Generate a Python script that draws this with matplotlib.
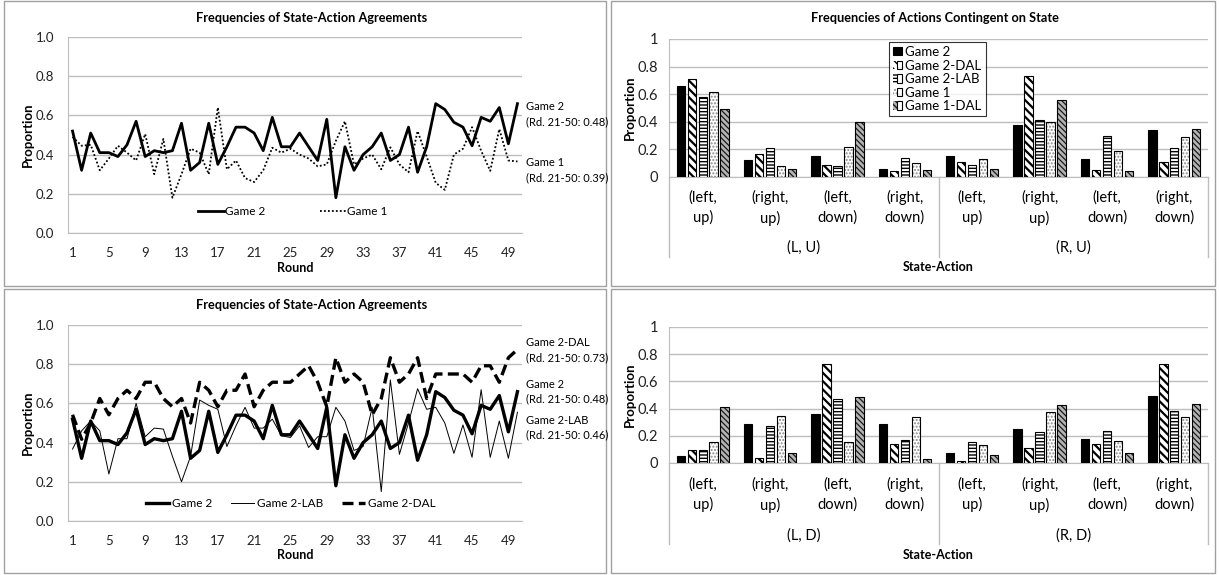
import matplotlib
matplotlib.use("Agg")
import matplotlib.pyplot as plt
from matplotlib.patches import Rectangle, Patch
from matplotlib.lines import Line2D
from matplotlib.legend_handler import HandlerTuple
import numpy as np

plt.rcParams['font.family'] = ['Lato', 'DejaVu Sans']
plt.rcParams['hatch.linewidth'] = 1.0

W, H = 1219, 575

# ---------------- data: agreement frequencies per round ----------------
rounds = list(range(1, 51))
game2 = [0.52, 0.32, 0.51, 0.41, 0.41, 0.39, 0.45, 0.57, 0.39, 0.42,
         0.41, 0.42, 0.56, 0.32, 0.36, 0.56, 0.35, 0.44, 0.54, 0.54,
         0.51, 0.42, 0.59, 0.44, 0.44, 0.51, 0.44, 0.37, 0.58, 0.18,
         0.44, 0.32, 0.40, 0.44, 0.51, 0.37, 0.40, 0.54, 0.31, 0.44,
         0.66, 0.63, 0.565, 0.54, 0.445, 0.59, 0.57, 0.64, 0.455, 0.66]
game1 = [0.49, 0.445, 0.45, 0.32, 0.38, 0.445, 0.41, 0.37, 0.505, 0.30,
         0.48, 0.18, 0.30, 0.43, 0.41, 0.30, 0.64, 0.325, 0.37, 0.28,
         0.26, 0.32, 0.435, 0.41, 0.43, 0.40, 0.38, 0.34, 0.35, 0.47,
         0.57, 0.35, 0.38, 0.40, 0.325, 0.437, 0.35, 0.31, 0.52, 0.39,
         0.256, 0.22, 0.40, 0.43, 0.54, 0.42, 0.317, 0.53, 0.37, 0.365]
game2_lab = [0.367, 0.46, 0.51, 0.46, 0.24, 0.42, 0.42, 0.60, 0.43, 0.474,
             0.469, 0.33, 0.20, 0.33, 0.617, 0.59, 0.57, 0.38, 0.486, 0.58,
             0.474, 0.474, 0.52, 0.435, 0.426, 0.486, 0.375, 0.43, 0.43, 0.58,
             0.51, 0.36, 0.38, 0.58, 0.15, 0.72, 0.34, 0.50, 0.675, 0.57,
             0.58, 0.50, 0.345, 0.49, 0.325, 0.67, 0.325, 0.51, 0.32, 0.555]
game2_dal = [0.542, 0.417, 0.50, 0.625, 0.542, 0.625, 0.667, 0.625, 0.708, 0.708,
             0.625, 0.583, 0.625, 0.50, 0.708, 0.667, 0.583, 0.667, 0.667, 0.75,
             0.583, 0.667, 0.708, 0.708, 0.708, 0.75, 0.792, 0.708, 0.583, 0.833,
             0.708, 0.75, 0.708, 0.542, 0.625, 0.833, 0.708, 0.75, 0.833, 0.625,
             0.75, 0.75, 0.75, 0.75, 0.708, 0.792, 0.792, 0.708, 0.833, 0.875]
round_ticks = list(range(1, 50, 4))

# ---------------- data: actions contingent on state ----------------
action_labels = ["(left,\nup)", "(right,\nup)", "(left,\ndown)", "(right,\ndown)"] * 2
top_states = ["(L, U)", "(R, U)"]
bottom_states = ["(L, D)", "(R, D)"]
series_names = ["Game 2", "Game 2-DAL", "Game 2-LAB", "Game 1", "Game 1-DAL"]

top_game2 = [0.66, 0.12, 0.15, 0.06, 0.15, 0.38, 0.13, 0.34]
top_game2_dal = [0.71, 0.165, 0.09, 0.04, 0.11, 0.73, 0.05, 0.11]
top_game2_lab = [0.58, 0.21, 0.08, 0.135, 0.09, 0.41, 0.295, 0.21]
top_game1 = [0.615, 0.08, 0.215, 0.10, 0.13, 0.40, 0.19, 0.29]
top_game1_dal = [0.49, 0.055, 0.40, 0.05, 0.055, 0.56, 0.04, 0.35]

bot_game2 = [0.055, 0.285, 0.36, 0.29, 0.075, 0.25, 0.175, 0.49]
bot_game2_dal = [0.095, 0.035, 0.73, 0.14, 0.015, 0.11, 0.14, 0.73]
bot_game2_lab = [0.095, 0.27, 0.47, 0.17, 0.155, 0.225, 0.235, 0.385]
bot_game1 = [0.155, 0.345, 0.155, 0.34, 0.13, 0.375, 0.16, 0.335]
bot_game1_dal = [0.415, 0.07, 0.485, 0.03, 0.06, 0.43, 0.075, 0.435]

GRID = '#bdbdbd'
BORDER = '#a0a0a0'

fig = plt.figure(figsize=(W / 100, H / 100), dpi=100)


def fx(x):
    return x / W


def fy(y):
    return 1 - y / H


def add_axes_px(left, top, right, bottom):
    return fig.add_axes([fx(left), fy(bottom), (right - left) / W, (bottom - top) / H])


# panel frames
for (l, t, r, b) in [(4, 1, 606, 286), (611, 1, 1215, 286),
                     (4, 289, 606, 573), (611, 289, 1215, 573)]:
    fig.patches.append(Rectangle((fx(l), fy(b)), (r - l) / W, (b - t) / H,
                                 transform=fig.transFigure, fill=False,
                                 edgecolor=BORDER, linewidth=1.0))


def style_line_axes(ax):
    ax.set_xlim(0.5, 50.5)
    ax.set_ylim(0, 1)
    ax.set_yticks(np.arange(0, 1.01, 0.2))
    ax.set_yticklabels([f"{v:.1f}" for v in np.arange(0, 1.01, 0.2)])
    ax.set_xticks(round_ticks)
    ax.set_xticklabels([str(t) for t in round_ticks])
    ax.yaxis.grid(True, color=GRID, linewidth=1.0)
    ax.set_axisbelow(True)
    for s in ['top', 'right']:
        ax.spines[s].set_visible(False)
    ax.spines['left'].set_color(GRID)
    ax.spines['bottom'].set_color(GRID)
    ax.tick_params(axis='both', length=0, labelsize=9.5, colors='#222222')
    ax.tick_params(axis='y', pad=10)
    ax.tick_params(axis='x', pad=10)


TITLE_FS = 9.2
LABEL_FS = 9.5
NOTE_FS = 8.0

# ---------------- top-left: Game 2 vs Game 1 ----------------
ax1 = add_axes_px(68, 37, 522, 233)
style_line_axes(ax1)
ax1.plot(rounds, game2, color='black', linewidth=2.0, label='Game 2', zorder=3)
ax1.plot(rounds, game1, color='black', linewidth=1.3, linestyle=(0, (1, 1.2)),
         label='Game 1', zorder=2)
ax1.legend(loc='center', bbox_to_anchor=(0.495, 0.11), ncol=2, frameon=False,
           fontsize=8.5, handlelength=2.2, handletextpad=0.1, columnspacing=4.6)
fig.text(fx(312), fy(18), "Frequencies of State-Action Agreements", ha='center',
         va='center', fontsize=TITLE_FS, fontweight='bold')
fig.text(fx(28), fy(135), "Proportion", rotation=90, ha='center', va='center',
         fontsize=LABEL_FS, fontweight='bold')
fig.text(fx(295), fy(268), "Round", ha='center', va='center', fontsize=9,
         fontweight='bold')
for txt, y in [("Game 2", 106), ("(Rd. 21-50: 0.48)", 122),
               ("Game 1", 163), ("(Rd. 21-50: 0.39)", 178)]:
    fig.text(fx(526), fy(y), txt, ha='left', va='center', fontsize=NOTE_FS)

# ---------------- bottom-left: Game 2 variants ----------------
ax2 = add_axes_px(68, 325, 522, 521)
style_line_axes(ax2)
ax2.plot(rounds, game2, color='black', linewidth=2.4, label='Game 2', zorder=3)
ax2.plot(rounds, game2_lab, color='black', linewidth=0.7, label='Game 2-LAB', zorder=2)
ax2.plot(rounds, game2_dal, color='black', linewidth=2.4, linestyle=(0, (3.3, 1.6)),
         label='Game 2-DAL', zorder=3)
ax2.legend(loc='center', bbox_to_anchor=(0.49, 0.09), ncol=3, frameon=False,
           fontsize=8.5, handlelength=2.0, handletextpad=0.2, columnspacing=1.6)
fig.text(fx(312), fy(305), "Frequencies of State-Action Agreements", ha='center',
         va='center', fontsize=TITLE_FS, fontweight='bold')
fig.text(fx(28), fy(423), "Proportion", rotation=90, ha='center', va='center',
         fontsize=LABEL_FS, fontweight='bold')
fig.text(fx(295), fy(555), "Round", ha='center', va='center', fontsize=9,
         fontweight='bold')
for txt, y in [("Game 2-DAL", 342), ("(Rd. 21-50: 0.73)", 358),
               ("Game 2", 384), ("(Rd. 21-50: 0.48)", 399),
               ("Game 2-LAB", 420), ("(Rd. 21-50: 0.46)", 435)]:
    fig.text(fx(526), fy(y), txt, ha='left', va='center', fontsize=NOTE_FS)

# ---------------- bar charts ----------------
styles = [
    dict(face='black', hatch=None, hcolor='black', hlw=1.0),
    dict(face='white', hatch='\\\\\\\\', hcolor='black', hlw=1.6),
    dict(face='white', hatch='-----', hcolor='black', hlw=1.0),
    dict(face='white', hatch='.....', hcolor='#8a8a8a', hlw=1.0),
    dict(face='#b4b4b4', hatch='\\\\\\\\\\\\', hcolor='#1a1a1a', hlw=0.9),
]

PITCH = 0.163
BAR_W = 0.124


def draw_bars(ax, values_list):
    x = np.arange(len(action_labels))
    for j, (vals, st) in enumerate(zip(values_list, styles)):
        pos = x + (j - 2) * PITCH
        if st['hatch'] is None:
            ax.bar(pos, vals, BAR_W, color=st['face'], edgecolor='black',
                   linewidth=0.8, zorder=3)
            continue
        bars = ax.bar(pos, vals, BAR_W, color=st['face'], edgecolor=st['hcolor'],
                      linewidth=0, hatch=st['hatch'], zorder=3)
        for b in bars:
            if hasattr(b, 'set_hatch_linewidth'):
                b.set_hatch_linewidth(st['hlw'])
        ax.bar(pos, vals, BAR_W, fill=False, edgecolor='black', linewidth=0.8, zorder=4)


def style_bar_axes(ax, states, label_y1, state_y, sep_bottom, axis_y):
    ax.set_xlim(-0.5, 7.5)
    ax.set_ylim(0, 1)
    ax.set_yticks(np.arange(0, 1.01, 0.2))
    ax.set_yticklabels(["0", "0.2", "0.4", "0.6", "0.8", "1"])
    ax.set_xticks([])
    ax.yaxis.grid(True, color=GRID, linewidth=1.0)
    ax.set_axisbelow(True)
    for s in ['top', 'right']:
        ax.spines[s].set_visible(False)
    ax.spines['left'].set_color(GRID)
    ax.spines['bottom'].set_color(GRID)
    ax.tick_params(axis='y', length=0, labelsize=10.5, pad=8, colors='#222222')
    for i, lab in enumerate(action_labels):
        x_px = 669 + (i + 0.5) * (1208 - 669) / 8
        fig.text(fx(x_px), fy(label_y1), lab, ha='center', va='top',
                 fontsize=10.5, linespacing=1.5)
    for k, st in enumerate(states):
        x_px = 669 + (k * 4 + 2) * (1208 - 669) / 8
        fig.text(fx(x_px), fy(state_y), st, ha='center', va='center', fontsize=10.5)
    for xp in [669, 938.5, 1208]:
        fig.add_artist(Line2D([fx(xp), fx(xp)], [fy(axis_y), fy(sep_bottom)],
                              transform=fig.transFigure, color=GRID, linewidth=1.0))


ax3 = add_axes_px(669, 39, 1208, 177)
draw_bars(ax3, [top_game2, top_game2_dal, top_game2_lab, top_game1, top_game1_dal])
style_bar_axes(ax3, top_states, 190, 248, 257, 177)
fig.text(fx(935), fy(18), "Frequencies of Actions Contingent on State", ha='center',
         va='center', fontsize=TITLE_FS, fontweight='bold')
fig.text(fx(630), fy(108), "Proportion", rotation=90, ha='center', va='center',
         fontsize=LABEL_FS, fontweight='bold')
fig.text(fx(938), fy(267), "State-Action", ha='center', va='center', fontsize=9,
         fontweight='bold')

# legend with pattern swatches
handles = []
for st in styles:
    if st['hatch'] is None:
        handles.append(Patch(facecolor='black', edgecolor='black', linewidth=0.8))
    else:
        p = Patch(facecolor=st['face'], edgecolor=st['hcolor'], linewidth=0, hatch=st['hatch'])
        handles.append((p, Patch(fill=False, edgecolor='black', linewidth=0.8)))
leg = ax3.legend(handles, series_names, loc='upper left',
                 bbox_to_anchor=((889 - 669) / (1208 - 669), (177 - 42) / (177 - 39)),
                 fontsize=9.5, frameon=True, fancybox=False, edgecolor='black',
                 handlelength=0.65, handleheight=0.6, handletextpad=0.3,
                 labelspacing=0.12, borderpad=0.3, borderaxespad=0,
                 handler_map={tuple: HandlerTuple(ndivide=None, pad=0)})
leg.get_frame().set_linewidth(0.8)

ax4 = add_axes_px(669, 327, 1208, 463)
draw_bars(ax4, [bot_game2, bot_game2_dal, bot_game2_lab, bot_game1, bot_game1_dal])
style_bar_axes(ax4, bottom_states, 477, 536, 544, 463)
fig.text(fx(630), fy(395), "Proportion", rotation=90, ha='center', va='center',
         fontsize=LABEL_FS, fontweight='bold')
fig.text(fx(938), fy(555), "State-Action", ha='center', va='center', fontsize=9,
         fontweight='bold')

fig.savefig("out.png", dpi=100, facecolor='white')
